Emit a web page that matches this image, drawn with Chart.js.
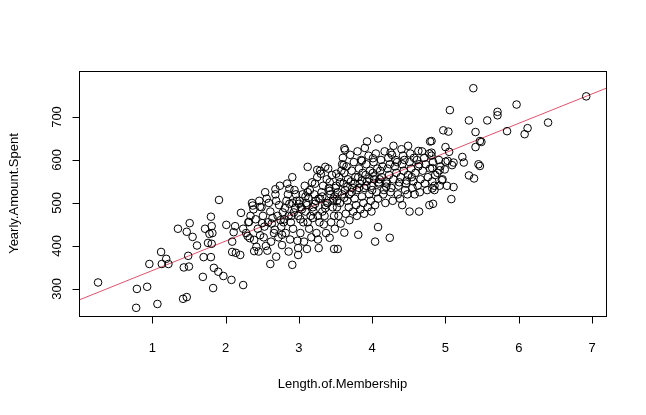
<!DOCTYPE html>
<html><head><meta charset="utf-8">
<script src="https://cdn.jsdelivr.net/npm/chart.js@4"></script>
<style>html,body{margin:0;padding:0;background:#fff}#c{display:block}</style>
</head><body>
<canvas id="c" width="646" height="415"></canvas>
<script>
const xTitle = "Length.of.Membership";
const yTitle = "Yearly.Amount.Spent";
const xTicks = [1,2,3,4,5,6,7];
const yTicks = [300,400,500,600,700];
const fitX = [-0.5, 7.5];
const fitY = [240, 788];
// [Length.of.Membership, Yearly.Amount.Spent]
const outerPoints = [
[0.26,315],[0.78,256],[0.79,300],[0.93,305],[1.07,265],[0.96,358],[1.12,386],[1.13,358],[1.19,370],[1.22,358],
[1.42,277],[1.47,281],[1.35,440],[1.51,453],[1.47,433],[1.55,421],[1.49,377],[1.43,350],[1.50,352],[1.61,401],
[1.69,328],[1.83,302],[1.70,374],[1.80,374],[1.84,349],[1.90,340],[1.97,330],[2.08,321],[2.24,309],[1.91,507],
[1.80,468],[1.81,446],[1.72,440],[1.78,428],[1.82,430],[1.76,407],[1.81,405],[2.01,449],[2.13,446],[2.21,477],
[2.09,410],[2.09,386],[2.14,384],[2.20,379],[2.37,494],[2.11,432],[2.24,440],[2.30,423],[2.32,456],[2.39,414],
[2.39,388],[2.61,358],[2.91,356],[2.99,379],[2.86,387],[2.69,375],[2.57,389],[2.45,387],[3.11,393],[3.27,395],
[3.48,393],[3.53,393],[3.81,426],[4.04,410],[4.24,419],[4.08,444],[3.62,431],[3.42,419],[2.47,491],[2.77,426],
[2.50,453],[4.41,495],[4.51,480],[4.64,480],[4.78,495],[4.08,650],[3.93,643],[3.62,627],[3.63,623],[3.12,584],
[2.91,560],[2.68,532],[2.87,533],[3.36,584],[3.25,577],[3.61,588],[3.51,568],[4.29,633],[4.49,633],[4.79,643],
[4.63,621],[4.25,617],[3.86,598],[4.01,604],[5.38,767],[6.92,748],[5.97,729],[5.06,716],[5.71,712],[5.71,704],
[5.32,692],[5.57,692],[5.41,665],[5.84,667],[6.12,674],[6.08,660],[6.40,687],[4.97,669],[5.04,666],[4.81,644],
[5.47,644],[5.49,642],[5.00,630],[5.05,619],[5.41,630],[4.81,617],[5.23,607],[5.25,594],[5.00,596],[5.03,598],
[5.11,594],[5.09,588],[5.45,590],[5.47,586],[4.92,576],[4.99,578],[4.82,581],[5.32,564],[5.39,557],[4.95,553],
[5.02,540],[5.11,537],[4.82,534],[4.85,530],[5.08,509],[4.83,498]
];
const densePoints = [
[2.31,455],[2.34,470],[2.28,430],[2.36,500],[2.33,418],
[2.41,462],[2.44,440],[2.38,485],[2.46,505],[2.42,398],[2.47,425],
[2.51,470],[2.53,445],[2.49,490],[2.56,510],[2.52,420],[2.55,400],[2.58,455],[2.54,525],
[2.61,480],[2.63,452],[2.66,430],[2.59,500],[2.64,465],[2.68,520],[2.62,410],[2.67,438],
[2.71,470],[2.73,495],[2.69,505],[2.76,445],[2.72,420],[2.75,460],[2.78,478],[2.74,540],[2.77,402],
[2.81,488],[2.83,505],[2.79,455],[2.86,470],[2.82,430],[2.85,520],[2.88,415],[2.84,545],[2.87,498],[2.80,462],
[2.91,500],[2.93,478],[2.89,455],[2.96,520],[2.92,440],[2.95,488],[2.98,412],[2.94,530],[2.97,505],[2.90,470],[2.99,395],
[3.01,505],[3.03,490],[2.99,470],[3.06,455],[3.02,430],[3.05,520],[3.08,540],[3.04,485],[3.07,410],[3.00,498],[3.09,515],[3.02,462],
[3.11,495],[3.13,512],[3.09,480],[3.16,470],[3.12,455],[3.15,530],[3.18,548],[3.14,440],[3.17,420],[3.10,500],[3.19,465],[3.12,525],
[3.21,520],[3.23,505],[3.19,490],[3.26,470],[3.22,545],[3.25,560],[3.28,455],[3.24,430],[3.27,510],[3.20,480],[3.29,575],[3.22,498],[3.26,415],
[3.31,525],[3.33,540],[3.29,510],[3.36,495],[3.32,480],[3.35,470],[3.38,555],[3.34,450],[3.37,430],[3.30,568],[3.39,500],[3.32,515],[3.36,488],
[3.41,535],[3.43,520],[3.39,500],[3.46,490],[3.42,548],[3.45,565],[3.48,470],[3.44,455],[3.47,510],[3.40,580],[3.49,440],[3.42,528],[3.46,505],
[3.51,540],[3.53,525],[3.49,515],[3.56,500],[3.52,490],[3.55,560],[3.58,575],[3.54,470],[3.57,452],[3.50,535],[3.59,590],[3.52,505],[3.56,548],
[3.61,545],[3.63,530],[3.59,520],[3.66,505],[3.62,570],[3.65,585],[3.68,490],[3.64,475],[3.67,555],[3.60,605],[3.69,460],[3.62,512],[3.66,538],
[3.71,550],[3.73,535],[3.69,520],[3.76,510],[3.72,575],[3.75,595],[3.78,495],[3.74,480],[3.77,560],[3.70,612],[3.79,470],[3.72,525],[3.76,545],
[3.81,560],[3.83,545],[3.79,530],[3.86,515],[3.82,580],[3.85,600],[3.88,500],[3.84,485],[3.87,570],[3.80,620],[3.89,475],[3.82,535],[3.86,552],
[3.91,565],[3.93,550],[3.89,535],[3.96,520],[3.92,590],[3.95,610],[3.98,505],[3.94,490],[3.97,575],[3.90,628],[3.99,480],[3.92,540],[3.96,557],
[4.01,570],[4.03,555],[3.99,540],[4.06,525],[4.02,595],[4.05,615],[4.08,510],[4.04,495],[4.07,580],[4.00,530],[4.09,548],[4.02,562],
[4.11,575],[4.13,560],[4.09,545],[4.16,530],[4.12,600],[4.15,520],[4.18,500],[4.14,585],[4.17,620],[4.10,555],[4.19,538],
[4.21,580],[4.23,565],[4.19,550],[4.26,535],[4.22,605],[4.25,525],[4.28,505],[4.24,590],[4.27,612],[4.20,545],
[4.31,585],[4.33,570],[4.29,555],[4.36,540],[4.32,600],[4.35,520],[4.38,510],[4.34,595],[4.37,548],
[4.41,590],[4.43,575],[4.39,560],[4.46,545],[4.42,610],[4.45,530],[4.48,520],[4.44,600],[4.47,552],[4.40,625],
[4.51,595],[4.53,580],[4.49,565],[4.56,550],[4.52,615],[4.55,535],[4.58,520],[4.54,560],[4.57,605],
[4.61,600],[4.63,585],[4.59,570],[4.66,555],[4.62,540],[4.65,525],[4.68,620],[4.64,590],
[4.71,605],[4.73,590],[4.69,575],[4.76,560],[4.72,545],[4.75,530],[4.78,615],
[4.81,610],[4.83,595],[4.79,580],[4.86,565],[4.82,550],[4.85,540],
[4.91,600],[4.93,585],[4.89,570],[4.96,555],[4.92,540]
];
const X_MIN = 0, X_MAX = 7.19, Y_MIN = 237, Y_MAX = 807;
const FONT = '13px "Liberation Sans", Arial, sans-serif';

const allPts = outerPoints.concat(densePoints).map(p => ({x:p[0], y:p[1]}));

const axesPlugin = {
  id:'rAxes',
  afterDraw(chart){
    const {ctx, chartArea:a, scales:{x, y}} = chart;
    ctx.save();
    ctx.strokeStyle='#000'; ctx.lineWidth=1; ctx.fillStyle='#000'; ctx.font=FONT;
    ctx.strokeRect(a.left+0.5, a.top+0.5, a.right-a.left, a.bottom-a.top);
    const ay = a.bottom + 0.5;
    ctx.beginPath();
    xTicks.forEach(v=>{const px=Math.round(x.getPixelForValue(v))+0.5; ctx.moveTo(px,ay); ctx.lineTo(px,ay+7);});
    ctx.stroke();
    ctx.textAlign='center'; ctx.textBaseline='middle';
    xTicks.forEach(v=>ctx.fillText(String(v), x.getPixelForValue(v), a.bottom+32));
    ctx.fillText(xTitle, (a.left+a.right)/2, 384);
    const ax = a.left + 0.5;
    ctx.beginPath();
    yTicks.forEach(v=>{const py=Math.round(y.getPixelForValue(v))+0.5; ctx.moveTo(ax,py); ctx.lineTo(ax-7,py);});
    ctx.stroke();
    yTicks.forEach(v=>{
      ctx.save(); ctx.translate(a.left-22, y.getPixelForValue(v)); ctx.rotate(-Math.PI/2);
      ctx.fillText(String(v),0,0); ctx.restore();
    });
    ctx.save(); ctx.translate(14, (a.top+a.bottom)/2); ctx.rotate(-Math.PI/2);
    ctx.fillText(yTitle,0,0); ctx.restore();
    ctx.restore();
  }
};

new Chart(document.getElementById('c'), {
  type:'scatter',
  data:{datasets:[
    {data:allPts, pointStyle:'circle', pointRadius:3.8, pointHoverRadius:3.8, borderColor:'#000', backgroundColor:'rgba(0,0,0,0)', borderWidth:1},
    {type:'line', data:fitX.map((v,i)=>({x:v,y:fitY[i]})), borderColor:'#DF536B', borderWidth:1, pointRadius:0, fill:false}
  ]},
  options:{
    responsive:false, animation:false, devicePixelRatio:1,
    layout:{padding:{left:79, right:40, top:71, bottom:99}},
    plugins:{legend:{display:false}, tooltip:{enabled:false}},
    scales:{
      x:{type:'linear', min:X_MIN, max:X_MAX, display:false},
      y:{type:'linear', min:Y_MIN, max:Y_MAX, display:false}
    }
  },
  plugins:[axesPlugin]
});
</script>
</body></html>
